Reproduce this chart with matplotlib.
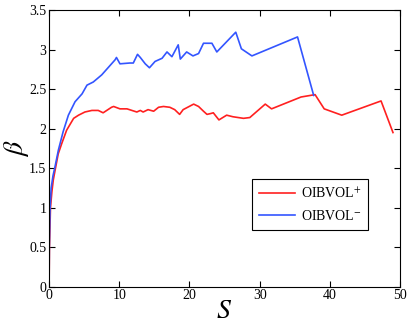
import matplotlib
matplotlib.use("Agg")
import matplotlib.pyplot as plt

plt.rcParams["font.family"] = ["Liberation Serif", "DejaVu Serif"]
plt.rcParams["mathtext.fontset"] = "stix"

# OIBVOL+ (red) curve
s_pos = [0.0, 0.05, 0.2, 0.4, 0.6, 0.85, 1.3, 1.8, 2.5, 3.5, 4.2, 5.1, 6.1,
         7.0, 7.7, 8.9, 9.2, 10.1, 11.1, 12.5, 13.0, 13.4, 14.1, 14.9, 15.6,
         16.3, 17.2, 17.9, 18.6, 19.1, 20.6, 21.3, 22.0, 22.5, 23.0, 23.4,
         24.2, 25.3, 26.2, 27.7, 28.6, 30.8, 31.7, 35.9, 37.9, 39.2, 41.7,
         47.3, 49.0]
beta_pos = [0.0, 0.5, 1.0, 1.2, 1.35, 1.47, 1.68, 1.81, 1.98, 2.13, 2.17,
            2.21, 2.23, 2.23, 2.20, 2.27, 2.28, 2.25, 2.25, 2.21, 2.23, 2.21,
            2.24, 2.22, 2.27, 2.28, 2.27, 2.24, 2.18, 2.24, 2.31, 2.28, 2.22,
            2.18, 2.19, 2.20, 2.11, 2.17, 2.15, 2.13, 2.14, 2.31, 2.25, 2.40,
            2.43, 2.25, 2.17, 2.35, 1.95]

# OIBVOL- (blue) curve
s_neg = [0.0, 0.03, 0.14, 0.3, 0.55, 0.85, 1.33, 2.0, 2.75, 3.7, 4.7, 5.4,
         6.3, 7.5, 8.7, 9.4, 9.6, 10.1, 11.5, 12.0, 12.6, 13.0, 13.7, 14.3,
         15.1, 16.1, 16.8, 17.5, 18.4, 18.7, 19.6, 20.5, 21.3, 22.0, 23.2,
         23.9, 26.6, 27.4, 28.9, 35.4, 37.7]
beta_neg = [0.0, 0.5, 1.0, 1.25, 1.4, 1.52, 1.73, 1.96, 2.17, 2.34, 2.44,
            2.55, 2.59, 2.68, 2.80, 2.87, 2.90, 2.82, 2.83, 2.83, 2.94, 2.90,
            2.82, 2.77, 2.85, 2.89, 2.97, 2.91, 3.06, 2.88, 2.97, 2.92, 2.95,
            3.08, 3.08, 2.97, 3.22, 3.01, 2.92, 3.16, 2.42]

fig = plt.figure(figsize=(4.09, 3.25), dpi=100)
ax = fig.add_axes([0.12, 0.118, 0.858, 0.851])

ax.plot(s_pos, beta_pos, color="#ff2020", lw=1.2, label=r"OIBVOL$^{+}$")
ax.plot(s_neg, beta_neg, color="#3355ff", lw=1.2, label=r"OIBVOL$^{-}$")

ax.set_xlim(0, 50)
ax.set_ylim(0, 3.5)
ax.set_xticks([0, 10, 20, 30, 40, 50])
ax.set_yticks([0, 0.5, 1, 1.5, 2, 2.5, 3, 3.5])
ax.set_yticklabels(["0", "0.5", "1", "1.5", "2", "2.5", "3", "3.5"])
ax.tick_params(direction="in", top=True, right=True, labelsize=10,
               length=4, width=0.8, pad=2)
for sp in ax.spines.values():
    sp.set_linewidth(0.8)

ax.set_xlabel(r"$S$", fontsize=20)
ax.set_ylabel(r"$\beta$", fontsize=20)
ax.xaxis.set_label_coords(0.5, -0.045)
ax.yaxis.set_label_coords(-0.052, 0.5)

leg = ax.legend(loc="lower right", bbox_to_anchor=(0.93, 0.18), fontsize=10,
                fancybox=False, edgecolor="black", framealpha=1,
                handlelength=2.6, borderpad=0.5, labelspacing=0.6,
                handletextpad=0.4)
leg.get_frame().set_linewidth(0.8)

fig.savefig("out.png", dpi=100)
